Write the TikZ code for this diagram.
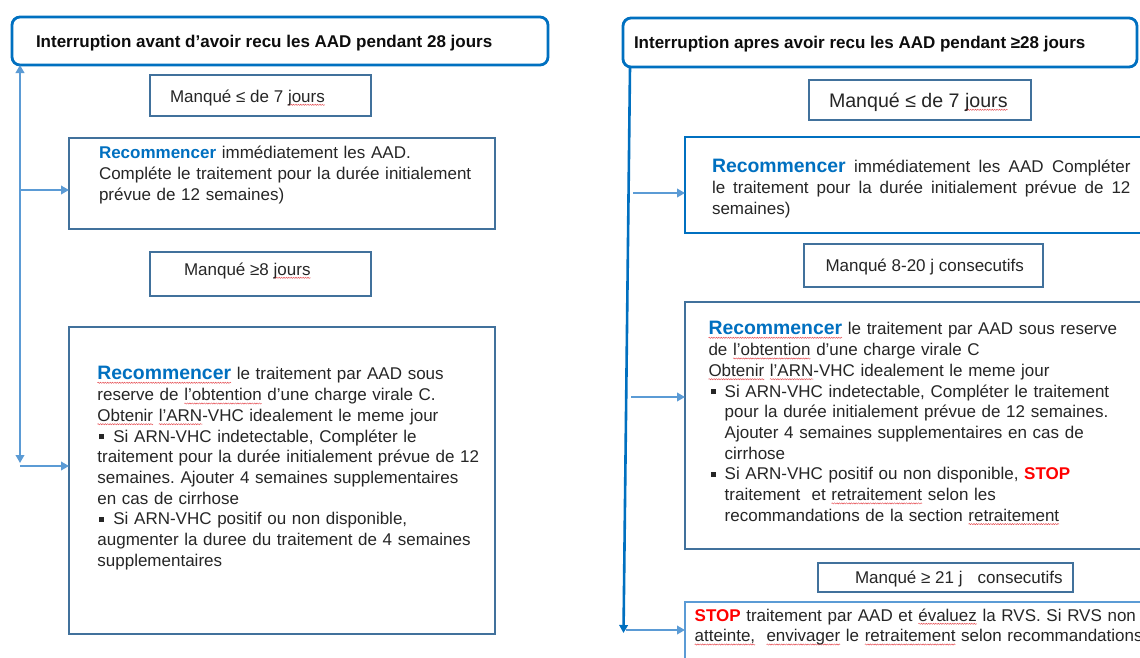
\documentclass[tikz,border=0pt]{standalone}
\usepackage{fontspec}
\setmainfont{Liberation Sans}
\usetikzlibrary{arrows.meta,decorations.pathmorphing}

\definecolor{cblue}{HTML}{0070C0}
\definecolor{csteel}{HTML}{41719C}
\definecolor{clight}{HTML}{5B9BD5}
\definecolor{cred}{HTML}{FF0000}
\definecolor{ctext}{HTML}{262626}
\definecolor{ctitle}{HTML}{0D0D0D}
\definecolor{cwave}{HTML}{E5484D}

\frenchspacing

% font sizes (body 17pt on a 20.7pt grid)
\newcommand\fbody{\fontsize{17}{20.7}\selectfont\parindent=0pt}
\newcommand\fbodyj{\fontsize{17}{21}\selectfont\parindent=0pt}
\newcommand\fbig{\fontsize{19.4}{20.7}\selectfont}
\newcommand\fmq{\fontsize{19.6}{22}\selectfont}

% red spell-check wave under a word
\newsavebox\sqbox
\newlength\sqlen
\newcommand\sq[1]{\leavevmode\sbox\sqbox{#1}\setlength\sqlen{\wd\sqbox}%
  \rlap{\tikz[baseline=0pt]{\path[use as bounding box] (0pt,0pt);
    \draw[spellwave] (0pt,-2.8pt) -- (\sqlen,-2.8pt);}}\usebox\sqbox}

% square bullets
\newcommand\sqbul{\rule[3pt]{4.7pt}{4.7pt}}
\newcommand\bulL{\leavevmode\hspace*{1.5pt}\makebox[14.5pt][l]{\sqbul}}
\newcommand\bulR{\leavevmode\hspace*{2.4pt}\makebox[13.8pt][l]{\sqbul}}
\newcommand\indR{\leavevmode\hspace*{16.2pt}}

\newcommand\reco{{\bfseries\color{cblue}Recommencer}}
\newcommand\recobig{{\fbig\bfseries\color{cblue}\sq{Recommencer}}}
\newcommand\stopw{{\bfseries\color{cred}STOP}}

\tikzset{
  boxfr/.style={draw=csteel, line width=2.7pt, fill=white, inner sep=0pt,
    outer sep=0pt, anchor=north west},
  bluefr/.style={boxfr, draw=cblue},
  titlefr/.style={boxfr, draw=cblue, line width=2.8pt, rounded corners=8pt},
  stopfr/.style={boxfr, draw=clight, line width=1.4pt},
  txt/.style={inner sep=0pt, outer sep=0pt, anchor=north west, align=left,
    text=ctext, font=\fbody},
  lbl/.style={inner sep=0pt, outer sep=0pt, anchor=base west, text=ctext,
    font=\fbody},
  ttl/.style={lbl, text=ctitle, font=\fbody\bfseries},
  tip/.style={-{Triangle[length=8pt,width=8.5pt]}},
  link/.style={draw=clight, line width=2.5pt, tip},
  spine/.style={draw=cblue, line width=2.6pt},
  spellwave/.style={draw=cwave, line width=0.45pt, decorate,
    decoration={snake, amplitude=0.6pt, segment length=2.4pt}},
}

\begin{document}
\begin{tikzpicture}[x=1pt,y=-1pt]
\useasboundingbox (0,0) rectangle (1140,657);
\clip (0,0) rectangle (1140,657);
\fill[white] (0,0) rectangle (1140,657);

% ---------- left column: frames ----------
\node[titlefr, minimum width=536pt, minimum height=48pt] (LT) at (12,17) {};
\node[boxfr, minimum width=221pt, minimum height=41pt] (LM1) at (150,75) {};
\node[boxfr, minimum width=426pt, minimum height=91pt] (L1) at (69,138) {};
\node[boxfr, minimum width=221pt, minimum height=44pt] (LM2) at (150,252) {};
\node[boxfr, minimum width=426pt, minimum height=307pt] (L2) at (69,327) {};

% ---------- right column: frames ----------
\node[titlefr, minimum width=514pt, minimum height=49pt] (RT) at (623,18) {};
\node[boxfr, minimum width=222pt, minimum height=40pt] (RM1) at (809,80) {};
\node[bluefr, minimum width=480pt, minimum height=96pt] (R1) at (685,137) {};
\node[boxfr, minimum width=239pt, minimum height=43pt] (RM2) at (804,244) {};
\node[boxfr, minimum width=480pt, minimum height=247pt] (R2) at (685,302) {};
\node[boxfr, minimum width=255pt, minimum height=29pt] (RM3) at (818,563) {};
\node[stopfr, minimum width=480pt, minimum height=80pt] (SB) at (685,602) {};

% ---------- left connectors ----------
\coordinate (lsx) at (20,0);
\coordinate (lbend) at (20,463);
\coordinate (l1y) at (20,190);
\coordinate (l2y) at (20,466);
\draw[link, {Triangle[length=8pt,width=8.5pt]}-{Triangle[length=8pt,width=8.5pt]}]
  (LT.south -| lsx) -- (lbend);
\draw[link] (l1y) -- (l1y -| L1.west);
\draw[link] (l2y) -- (l2y -| L2.west);

% ---------- right connectors ----------
\coordinate (rsx) at (630,0);
\coordinate (rbot) at (623.5,633);
\coordinate (r1y) at (633,193);
\coordinate (r2y) at (631,397);
\coordinate (r3y) at (626,630);
\draw[spine, tip] (RT.south -| rsx) -- (rbot);
\draw[link] (r1y) -- (r1y -| R1.west);
\draw[link] (r2y) -- (r2y -| R2.west);
\draw[link] (r3y) -- (r3y -| SB.west);

% ---------- left column: texts ----------
\node[ttl] (LTt) at (36,47) {Interruption avant d’avoir recu les AAD pendant 28 jours};
\node[lbl] (LM1t) at (170,102) {Manqué ≤ de 7 \sq{jours}};
\node[txt, text width=400pt] (L1t) at (99,144.5) {\strut\reco{} immédiatement les AAD.\\
Compléte le traitement pour la durée initialement\\
prévue de 12 semaines)};
\node[lbl] (LM2t) at (184,275) {Manqué ≥8 \sq{jours}};
\node[txt, text width=400pt] (L2t) at (97.4,365.5) {\strut\recobig{} le traitement par AAD sous\\
reserve de \sq{l’obtention} d’une charge virale C.\\
\sq{Obtenir} \sq{l’ARN}-VHC idealement le meme jour\\
\bulL Si ARN-VHC indetectable, Compléter le\\
traitement pour la durée initialement prévue de 12\\
semaines. Ajouter 4 semaines supplementaires\\
en cas de cirrhose\\
\bulL Si ARN-VHC positif ou non disponible,\\
augmenter la duree du traitement de 4 semaines\\
supplementaires};

% ---------- right column: texts ----------
\node[ttl] (RTt) at (634,48) {Interruption apres avoir recu les AAD pendant ≥28 jours};
\node[lbl, font=\fmq] (RM1t) at (829,107) {Manqué ≤ de 7 \sq{jours}};
\node[txt, text width=418.5pt, align=justify, font=\fbodyj] (R1t) at (712,157.3)
  {\strut{\fbig\bfseries\color{cblue}Recommencer} immédiatement les AAD Compléter\linebreak
   le traitement pour la durée initialement prévue de 12\linebreak semaines)};
\node[lbl] (RM2t) at (825.5,271) {Manqué 8-20 j consecutifs};
\node[txt, text width=440pt] (R2t) at (708.5,320.5) {\strut\recobig{} le traitement par AAD sous reserve\\
de \sq{l’obtention} d’une charge virale C\\
\sq{Obtenir} \sq{l’ARN}-VHC idealement le meme jour\\
\bulR Si ARN-VHC indetectable, Compléter le traitement\\
\indR pour la durée initialement prévue de 12 semaines.\\
\indR Ajouter 4 semaines supplementaires en cas de\\
\indR cirrhose\\
\bulR Si ARN-VHC positif ou non disponible, \stopw\\
\indR traitement\ \ et \sq{retraitement} selon les\\
\indR recommandations de la section \sq{retraitement}};
\node[lbl] (RM3t) at (855,583) {Manqué ≥ 21 j\hspace{15pt}consecutifs};
\node[txt, text width=470pt] (SBt) at (694.7,606.5) {\strut\stopw{} traitement par AAD et \sq{évaluez} la RVS. Si RVS non\\
\sq{atteinte,}\ \ \sq{envivager} le \sq{retraitement} selon recommandations};
\end{tikzpicture}
\end{document}
